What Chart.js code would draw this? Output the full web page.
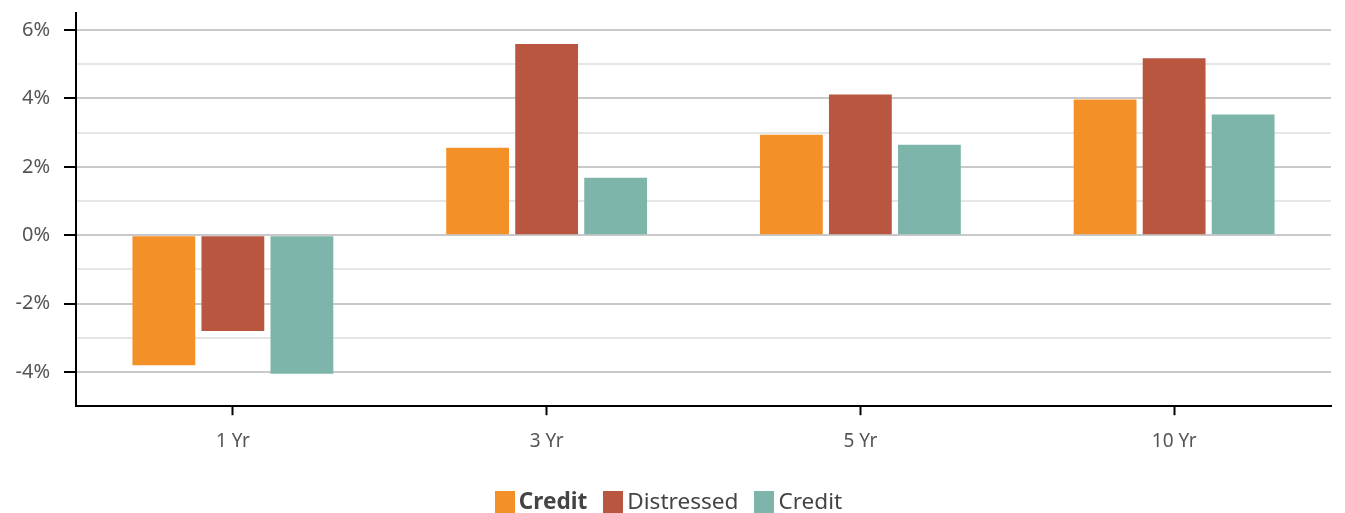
<!DOCTYPE html>
<html>
<head>
<meta charset="utf-8">
<script src="https://cdn.jsdelivr.net/npm/chart.js@4"></script>
<style>
  body { margin: 0; background: #fff; }
  #wrap { position: relative; width: 1345px; height: 513px; }
  #legend { position: absolute; left: 0; right: 0; top: 485px; text-align: center; padding-right: 8px;
    font-family: "Noto Sans", sans-serif; font-size: 22.6px; color: #444; }
  #legend span.item { display: inline-block; margin: 0 8px; }
  #legend span.box { display: inline-block; width: 20px; height: 22px; vertical-align: -4px; margin-right: 4px; }
</style>
</head>
<body>
<div id="wrap">
  <canvas id="myChart" width="1345" height="513"></canvas>
  <div id="legend"></div>
</div>
<script>
const categories = ['1 Yr', '3 Yr', '5 Yr', '10 Yr'];
const series_names = ['Credit', 'Distressed', 'Credit'];
const credit_a = [-3.8, 2.56, 2.94, 3.97];
const distressed = [-2.8, 5.59, 4.12, 5.18];
const credit_b = [-4.05, 1.68, 2.65, 3.53];
const colors = ['#F39128', '#B95640', '#7EB5AA'];

const values = [credit_a, distressed, credit_b];

const ctx = document.getElementById("myChart").getContext("2d");
const myChart = new Chart(ctx, {
    type: 'bar',
    data: {
        labels: categories,
        datasets: values.map((v, i) => ({
            label: series_names[i],
            data: v,
            backgroundColor: colors[i],
            borderWidth: 0,
            categoryPercentage: 0.66,
            barPercentage: 0.91,
        })),
    },
    options: {
        responsive: false,
        animation: false,
        layout: { padding: { top: 13, right: 14, bottom: 45, left: 0 } },
        plugins: {
            legend: { display: false },
            tooltip: { enabled: false },
        },
        scales: {
            x: {
                grid: {
                    offset: false,
                    drawOnChartArea: false,
                    tickLength: 9,
                    tickColor: '#000',
                    tickWidth: 2,
                },
                border: { color: '#000', width: 2 },
                ticks: {
                    font: { family: 'Noto Sans', size: 19 },
                    color: '#555',
                    padding: 15,
                },
            },
            y: {
                min: -5,
                max: 6.5,
                afterFit: (scale) => {
                    scale.width = 76;
                    scale.paddingTop = 0;
                    scale.paddingBottom = 0;
                },
                ticks: {
                    stepSize: 1,
                    includeBounds: false,
                    font: { family: 'Noto Sans', size: 20 },
                    color: '#555',
                    padding: 14,
                    callback: (v) => (v % 2 === 0 ? v + '%' : ''),
                },
                grid: {
                    lineWidth: 2,
                    tickLength: 12,
                    tickWidth: 2,
                    color: (c) => {
                        const v = c.tick ? c.tick.value : 0;
                        if (v === -5 || v === 6.5) return 'rgba(0,0,0,0)';
                        if (v % 2 === 0) return '#c9c9c9';
                        return '#e6e6e6';
                    },
                    tickColor: (c) => {
                        const v = c.tick ? c.tick.value : 0;
                        return v % 2 === 0 ? '#000' : 'rgba(0,0,0,0)';
                    },
                },
                border: { color: '#000', width: 2 },
            },
        },
    },
});

// legend built from series names, first label in bold
const legend = document.getElementById('legend');
series_names.forEach((name, i) => {
    const item = document.createElement('span');
    item.className = 'item';
    const box = document.createElement('span');
    box.className = 'box';
    box.style.background = colors[i];
    const txt = document.createElement('span');
    txt.textContent = name;
    if (i === 0) txt.style.fontWeight = 'bold';
    item.appendChild(box);
    item.appendChild(txt);
    legend.appendChild(item);
});
</script>
</body>
</html>
